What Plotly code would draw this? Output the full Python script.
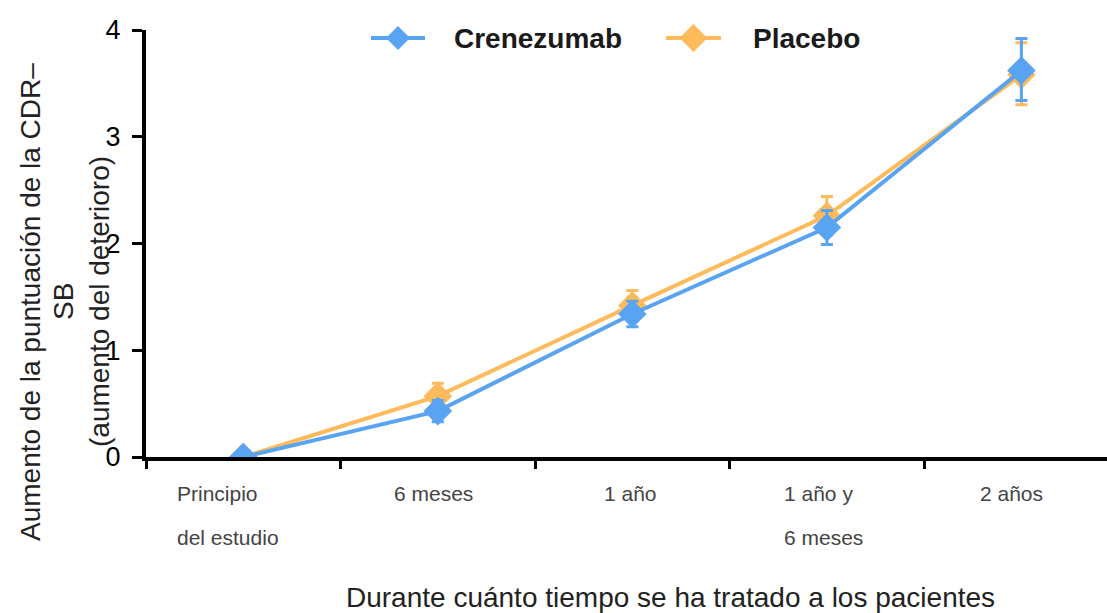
import plotly.graph_objects as go

categories = ["Principio<br>del estudio", "6 meses", "1 año", "1 año y<br>6 meses", "2 años"]
x_idx = [0, 1, 2, 3, 4]
crenezumab = [0.0, 0.43, 1.34, 2.15, 3.62]
crenezumab_err_plus = [0.0, 0.10, 0.12, 0.16, 0.30]
crenezumab_err_minus = [0.0, 0.10, 0.12, 0.16, 0.28]
placebo = [0.0, 0.57, 1.42, 2.26, 3.58]
placebo_err_plus = [0.0, 0.12, 0.14, 0.18, 0.30]
placebo_err_minus = [0.0, 0.12, 0.14, 0.18, 0.28]
y_ticks = [0, 1, 2, 3, 4]
y_title_lines = ["Aumento de la puntuación de la CDR–", "SB", "(aumento del deterioro)"]
x_title = "Durante cuánto tiempo se ha tratado a los pacientes"
series_names = ["Crenezumab", "Placebo"]

BLUE = "#58A3F2"
ORANGE = "#FFBA5C"

W, H = 1107, 613
L, R, T, B = 146, 0, 30, 156
PW, PH = W - L - R, H - T - B


def xp(px):
    return (px - L) / PW


def yp(py):
    return (H - B - py) / PH


fig = go.Figure()
fig.add_trace(go.Scatter(
    x=x_idx, y=placebo, name=series_names[1], mode="lines+markers",
    line=dict(color=ORANGE, width=4),
    marker=dict(symbol="diamond", size=22, color=ORANGE),
    error_y=dict(type="data", symmetric=False, array=placebo_err_plus,
                 arrayminus=placebo_err_minus, color=ORANGE, thickness=3, width=6),
    showlegend=False,
))
fig.add_trace(go.Scatter(
    x=x_idx, y=crenezumab, name=series_names[0], mode="lines+markers",
    line=dict(color=BLUE, width=4),
    marker=dict(symbol="diamond", size=22, color=BLUE),
    error_y=dict(type="data", symmetric=False, array=crenezumab_err_plus,
                 arrayminus=crenezumab_err_minus, color=BLUE, thickness=3, width=6),
    showlegend=False,
))

fig.update_layout(
    width=W, height=H,
    margin=dict(l=L, r=R, t=T, b=B, autoexpand=False),
    paper_bgcolor="white", plot_bgcolor="white",
    font=dict(family="Liberation Sans, Arial, sans-serif", color="#222"),
    showlegend=False,
)

fig.update_xaxes(
    range=[-0.5, 4.44], tickmode="array", automargin=False,
    tickvals=[-0.5, 0.5, 1.5, 2.5, 3.5], ticktext=["", "", "", "", ""],
    ticks="outside", ticklen=8, tickwidth=3, tickcolor="black",
    showline=True, linecolor="black", linewidth=4,
    showgrid=False, zeroline=False,
)
fig.update_yaxes(
    range=[0, 4], tickmode="array", tickvals=y_ticks, automargin=False,
    ticks="outside", ticklen=10, tickwidth=3, tickcolor="black",
    showline=True, linecolor="black", linewidth=4,
    showgrid=False, zeroline=False, ticklabelstandoff=6,
    tickfont=dict(size=27, color="black"),
)

# Custom legend (long line + diamond + bold label)
legend_items = [
    (series_names[0], BLUE, 371, 425, 12, 452),
    (series_names[1], ORANGE, 666, 721, 14, 751),
]
ly = 38
for name, col, x0, x1, half, tx in legend_items:
    fig.add_shape(type="line", xref="paper", yref="paper",
                  x0=xp(x0), x1=xp(x1), y0=yp(ly), y1=yp(ly),
                  line=dict(color=col, width=4))
    cx = (x0 + x1) / 2
    path = (f"M {xp(cx - half)},{yp(ly)} L {xp(cx)},{yp(ly - half)} "
            f"L {xp(cx + half)},{yp(ly)} L {xp(cx)},{yp(ly + half)} Z")
    fig.add_shape(type="path", xref="paper", yref="paper", path=path,
                  fillcolor=col, line=dict(width=0))
    fig.add_annotation(x=xp(tx), y=yp(ly), xref="paper", yref="paper", text=f"<b>{name}</b>",
                       showarrow=False, xanchor="left", yanchor="middle",
                       font=dict(size=28, color="#1a1a1a"))

# Category labels (left-aligned blocks under each category)
label_offsets = [-68, -46, -30, -45, -43]
for i, lab in enumerate(categories):
    for j, line in enumerate(lab.split("<br>")):
        fig.add_annotation(
            x=x_idx[i], y=0, xref="x", yref="paper", text=line, showarrow=False,
            xanchor="left", yanchor="middle", xshift=label_offsets[i], yshift=-36 - 44 * j,
            font=dict(size=21, color="#444"),
        )

# Y title as three rotated lines
y_title_x = [30, 63, 99]
for line, px in zip(y_title_lines, y_title_x):
    fig.add_annotation(
        x=xp(px), y=yp(302), xref="paper", yref="paper", text=line, showarrow=False,
        textangle=-90, xanchor="center", yanchor="middle",
        font=dict(size=28, color="#222"),
    )

fig.add_annotation(
    x=xp(670), y=yp(597), xref="paper", yref="paper", text=x_title, showarrow=False,
    xanchor="center", yanchor="middle",
    font=dict(size=28, color="#222"),
)

fig.write_html("out.html", post_script="document.body.style.margin='0';",
               config={"displayModeBar": False})
